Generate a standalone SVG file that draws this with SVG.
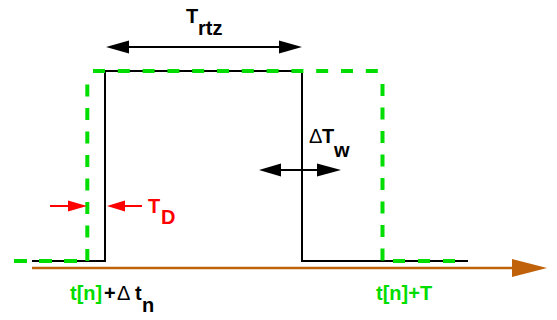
<svg xmlns="http://www.w3.org/2000/svg" width="557" height="320" viewBox="0 0 557 320">
<style>
text{font-family:"Liberation Sans",Arial,sans-serif;font-size:20px;font-weight:bold}
.blk{stroke:#000;stroke-width:2;fill:none}
.grn{stroke:#00DD00;stroke-width:4;fill:none}
.thin{font-weight:normal}
</style>
<rect width="557" height="320" fill="#fff"/>
<g id="axis">
<line x1="32" y1="268" x2="514" y2="268" stroke="#C0620A" stroke-width="2.5"/>
<polygon points="512,259 547,268 512,277" fill="#C0620A"/>
</g>
<g id="pulse">
<polyline class="blk" points="32,261 105,261 105,71 302,71 302,261 468,261"/>
</g>
<g id="delayed">
<line class="grn" x1="14" y1="261" x2="87" y2="261" stroke-dasharray="13 12"/>
<line class="grn" x1="87.3" y1="261" x2="87.3" y2="83" stroke-dasharray="12 11.5"/>
<line class="grn" x1="93" y1="71" x2="380" y2="71" stroke-dasharray="12 12.8"/>
<line class="grn" x1="382.5" y1="84" x2="382.5" y2="262" stroke-dasharray="12 11.5"/>
<line class="grn" x1="393" y1="261" x2="456" y2="261" stroke-dasharray="12 13"/>
</g>
<g id="connectors">
<g id="trtz-arrow">
<line x1="126" y1="47" x2="282" y2="47" stroke="#000" stroke-width="2"/>
<polygon points="106,47 129,40.5 129,53.5" fill="#000"/>
<polygon points="302,47 279,40.5 279,53.5" fill="#000"/>
</g>
<g id="tw-arrow">
<line x1="278" y1="170" x2="322" y2="170" stroke="#000" stroke-width="2"/>
<polygon points="259,170 281,163.5 281,176.5" fill="#000"/>
<polygon points="341,170 317,163.5 317,176.5" fill="#000"/>
</g>
<g id="td-arrows">
<line x1="50" y1="206" x2="70" y2="206" stroke="#FF0000" stroke-width="2"/>
<polygon points="87,206 68,200.5 68,211.5" fill="#FF0000"/>
<line x1="123" y1="206" x2="142" y2="206" stroke="#FF0000" stroke-width="2"/>
<polygon points="107,206 125,200.5 125,211.5" fill="#FF0000"/>
</g>
</g>
<g id="labels">
<g id="trtz"><text x="186" y="23">T</text><text x="198" y="35">rtz</text></g>
<g id="tw"><text x="309" y="143" class="thin">Δ</text><text x="322" y="143">T</text><text x="334" y="157">w</text></g>
<g id="td" fill="#FF0000"><text x="148" y="213">T</text><text x="161" y="224">D</text></g>
<g id="tn"><text x="70" y="300" fill="#00DD00">t[n]</text><text x="104" y="300">+</text><text x="117" y="300" class="thin">Δ</text><text x="135" y="300">t</text><text x="142" y="312">n</text></g>
<g id="tnT"><text x="376" y="300" fill="#00DD00">t[n]+T</text></g>
</g>
</svg>
